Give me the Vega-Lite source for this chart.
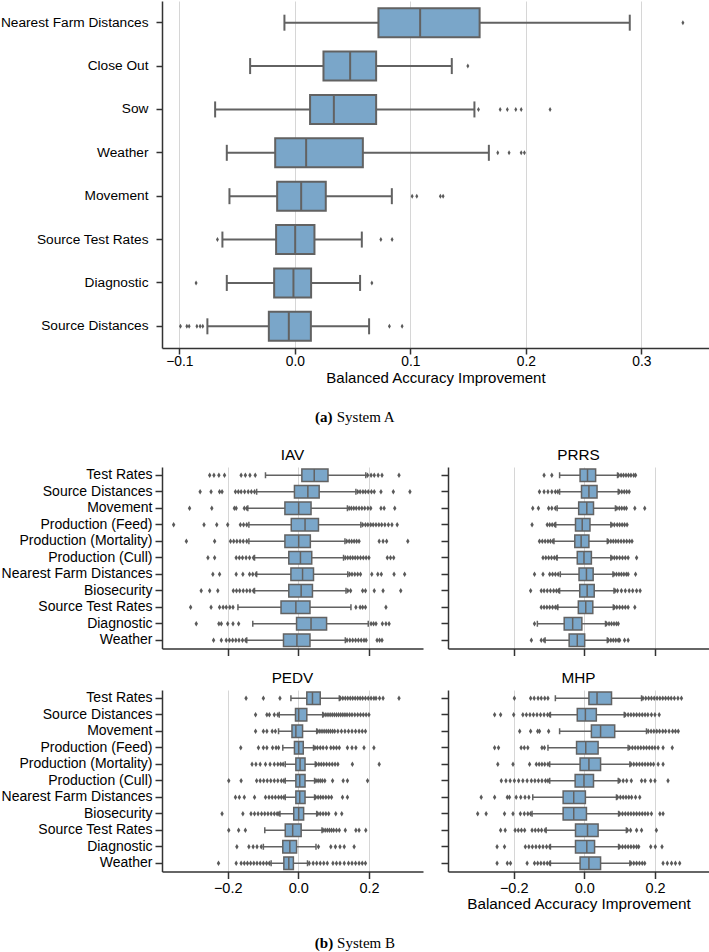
{
"$schema": "https://vega.github.io/schema/vega-lite/v6.json",
"padding": {"left": 0, "top": 1, "right": 0, "bottom": 0},
"background": "white",
"config": {
  "view": {"stroke": null},
  "font": "Liberation Sans",
  "axis": {"domainColor": "#333333", "domainWidth": 1.5, "tickColor": "#333333", "tickWidth": 1.5, "labelColor": "#000000", "titleColor": "#000000", "labelFont": "Liberation Sans", "titleFont": "Liberation Sans", "titleFontWeight": "normal", "gridColor": "#d6d6d6", "gridWidth": 1},
  "title": {"font": "Liberation Sans", "fontWeight": "normal", "color": "#000000"}
},
"datasets": {
  "topSum": [
    {"feature": "Nearest Farm Distances", "lo": -0.009, "q1": 0.0724, "med": 0.1085, "q3": 0.160, "hi": 0.290},
    {"feature": "Close Out", "lo": -0.0387, "q1": 0.0248, "med": 0.0479, "q3": 0.0704, "hi": 0.1359},
    {"feature": "Sow", "lo": -0.069, "q1": 0.0132, "med": 0.0338, "q3": 0.0704, "hi": 0.1555},
    {"feature": "Weather", "lo": -0.0589, "q1": -0.017, "med": 0.0098, "q3": 0.0589, "hi": 0.168},
    {"feature": "Movement", "lo": -0.0566, "q1": -0.0153, "med": 0.0055, "q3": 0.0268, "hi": 0.084},
    {"feature": "Source Test Rates", "lo": -0.0627, "q1": -0.0162, "med": 0.0003, "q3": 0.017, "hi": 0.058},
    {"feature": "Diagnostic", "lo": -0.0589, "q1": -0.0179, "med": -0.0012, "q3": 0.0141, "hi": 0.0565},
    {"feature": "Source Distances", "lo": -0.0757, "q1": -0.0225, "med": -0.0052, "q3": 0.0139, "hi": 0.0643}
  ],
  "topOut": [
    {"feature": "Nearest Farm Distances", "value": 0.336},
    {"feature": "Close Out", "value": 0.1498},
    {"feature": "Sow", "value": 0.159}, {"feature": "Sow", "value": 0.1778}, {"feature": "Sow", "value": 0.184}, {"feature": "Sow", "value": 0.1913}, {"feature": "Sow", "value": 0.196}, {"feature": "Sow", "value": 0.221},
    {"feature": "Weather", "value": 0.1757}, {"feature": "Weather", "value": 0.1855}, {"feature": "Weather", "value": 0.196}, {"feature": "Weather", "value": 0.1988},
    {"feature": "Movement", "value": 0.1016}, {"feature": "Movement", "value": 0.1056}, {"feature": "Movement", "value": 0.126}, {"feature": "Movement", "value": 0.1284},
    {"feature": "Source Test Rates", "value": -0.067}, {"feature": "Source Test Rates", "value": 0.0745}, {"feature": "Source Test Rates", "value": 0.0842},
    {"feature": "Diagnostic", "value": -0.0855}, {"feature": "Diagnostic", "value": 0.0667},
    {"feature": "Source Distances", "value": -0.099}, {"feature": "Source Distances", "value": -0.0935}, {"feature": "Source Distances", "value": -0.0915}, {"feature": "Source Distances", "value": -0.0848}, {"feature": "Source Distances", "value": -0.082}, {"feature": "Source Distances", "value": -0.0797}, {"feature": "Source Distances", "value": 0.0819}, {"feature": "Source Distances", "value": 0.0929}
  ],
  "botSum": [
    {"panel": "IAV", "feature": "Test Rates", "lo": -0.093, "q1": 0.010, "med": 0.045, "q3": 0.084, "hi": 0.191},
    {"panel": "IAV", "feature": "Source Distances", "lo": -0.118, "q1": -0.011, "med": 0.027, "q3": 0.059, "hi": 0.163},
    {"panel": "IAV", "feature": "Movement", "lo": -0.143, "q1": -0.038, "med": 0.001, "q3": 0.036, "hi": 0.139},
    {"panel": "IAV", "feature": "Production (Feed)", "lo": -0.140, "q1": -0.020, "med": 0.019, "q3": 0.057, "hi": 0.177},
    {"panel": "IAV", "feature": "Production (Mortality)", "lo": -0.140, "q1": -0.038, "med": 0.001, "q3": 0.034, "hi": 0.132},
    {"panel": "IAV", "feature": "Production (Cull)", "lo": -0.124, "q1": -0.027, "med": 0.006, "q3": 0.038, "hi": 0.128},
    {"panel": "IAV", "feature": "Nearest Farm Distances", "lo": -0.118, "q1": -0.021, "med": 0.012, "q3": 0.043, "hi": 0.140},
    {"panel": "IAV", "feature": "Biosecurity", "lo": -0.124, "q1": -0.027, "med": 0.008, "q3": 0.040, "hi": 0.135},
    {"panel": "IAV", "feature": "Source Test Rates", "lo": -0.171, "q1": -0.049, "med": -0.007, "q3": 0.033, "hi": 0.149},
    {"panel": "IAV", "feature": "Diagnostic", "lo": -0.129, "q1": -0.005, "med": 0.036, "q3": 0.080, "hi": 0.198},
    {"panel": "IAV", "feature": "Weather", "lo": -0.146, "q1": -0.042, "med": -0.004, "q3": 0.033, "hi": 0.133},
    {"panel": "PRRS", "feature": "Test Rates", "lo": -0.070, "q1": -0.012, "med": 0.009, "q3": 0.032, "hi": 0.094},
    {"panel": "PRRS", "feature": "Source Distances", "lo": -0.070, "q1": -0.008, "med": 0.013, "q3": 0.036, "hi": 0.096},
    {"panel": "PRRS", "feature": "Movement", "lo": -0.077, "q1": -0.016, "med": 0.007, "q3": 0.026, "hi": 0.088},
    {"panel": "PRRS", "feature": "Production (Feed)", "lo": -0.081, "q1": -0.025, "med": -0.006, "q3": 0.016, "hi": 0.075},
    {"panel": "PRRS", "feature": "Production (Mortality)", "lo": -0.086, "q1": -0.027, "med": -0.009, "q3": 0.013, "hi": 0.065},
    {"panel": "PRRS", "feature": "Production (Cull)", "lo": -0.077, "q1": -0.020, "med": -0.001, "q3": 0.020, "hi": 0.075},
    {"panel": "PRRS", "feature": "Nearest Farm Distances", "lo": -0.068, "q1": -0.015, "med": 0.006, "q3": 0.025, "hi": 0.081},
    {"panel": "PRRS", "feature": "Biosecurity", "lo": -0.070, "q1": -0.013, "med": 0.008, "q3": 0.028, "hi": 0.084},
    {"panel": "PRRS", "feature": "Source Test Rates", "lo": -0.075, "q1": -0.017, "med": 0.004, "q3": 0.024, "hi": 0.082},
    {"panel": "PRRS", "feature": "Diagnostic", "lo": -0.133, "q1": -0.057, "med": -0.033, "q3": -0.007, "hi": 0.060},
    {"panel": "PRRS", "feature": "Weather", "lo": -0.111, "q1": -0.043, "med": -0.020, "q3": 0.001, "hi": 0.065},
    {"panel": "PEDV", "feature": "Test Rates", "lo": -0.021, "q1": 0.024, "med": 0.040, "q3": 0.062, "hi": 0.116},
    {"panel": "PEDV", "feature": "Source Distances", "lo": -0.054, "q1": -0.008, "med": 0.001, "q3": 0.024, "hi": 0.069},
    {"panel": "PEDV", "feature": "Movement", "lo": -0.056, "q1": -0.018, "med": -0.007, "q3": 0.012, "hi": 0.052},
    {"panel": "PEDV", "feature": "Production (Feed)", "lo": -0.044, "q1": -0.011, "med": 0.001, "q3": 0.014, "hi": 0.043},
    {"panel": "PEDV", "feature": "Production (Mortality)", "lo": -0.037, "q1": -0.007, "med": 0.005, "q3": 0.019, "hi": 0.048},
    {"panel": "PEDV", "feature": "Production (Cull)", "lo": -0.037, "q1": -0.007, "med": 0.004, "q3": 0.019, "hi": 0.046},
    {"panel": "PEDV", "feature": "Nearest Farm Distances", "lo": -0.037, "q1": -0.007, "med": 0.004, "q3": 0.019, "hi": 0.046},
    {"panel": "PEDV", "feature": "Biosecurity", "lo": -0.052, "q1": -0.013, "med": 0.001, "q3": 0.015, "hi": 0.052},
    {"panel": "PEDV", "feature": "Source Test Rates", "lo": -0.095, "q1": -0.037, "med": -0.016, "q3": 0.008, "hi": 0.067},
    {"panel": "PEDV", "feature": "Diagnostic", "lo": -0.099, "q1": -0.044, "med": -0.024, "q3": -0.005, "hi": 0.050},
    {"panel": "PEDV", "feature": "Weather", "lo": -0.077, "q1": -0.041, "med": -0.027, "q3": -0.014, "hi": 0.026},
    {"panel": "MHP", "feature": "Test Rates", "lo": -0.082, "q1": 0.013, "med": 0.036, "q3": 0.077, "hi": 0.162},
    {"panel": "MHP", "feature": "Source Distances", "lo": -0.096, "q1": -0.020, "med": 0.003, "q3": 0.034, "hi": 0.113},
    {"panel": "MHP", "feature": "Movement", "lo": -0.070, "q1": 0.020, "med": 0.046, "q3": 0.086, "hi": 0.176},
    {"panel": "MHP", "feature": "Production (Feed)", "lo": -0.103, "q1": -0.022, "med": 0.004, "q3": 0.039, "hi": 0.124},
    {"panel": "MHP", "feature": "Production (Mortality)", "lo": -0.098, "q1": -0.012, "med": 0.013, "q3": 0.046, "hi": 0.129},
    {"panel": "MHP", "feature": "Production (Cull)", "lo": -0.098, "q1": -0.026, "med": -0.001, "q3": 0.026, "hi": 0.096},
    {"panel": "MHP", "feature": "Nearest Farm Distances", "lo": -0.146, "q1": -0.060, "med": -0.030, "q3": 0.003, "hi": 0.091},
    {"panel": "MHP", "feature": "Biosecurity", "lo": -0.148, "q1": -0.060, "med": -0.030, "q3": 0.006, "hi": 0.097},
    {"panel": "MHP", "feature": "Source Test Rates", "lo": -0.108, "q1": -0.025, "med": 0.009, "q3": 0.039, "hi": 0.119},
    {"panel": "MHP", "feature": "Diagnostic", "lo": -0.096, "q1": -0.025, "med": 0.007, "q3": 0.029, "hi": 0.097},
    {"panel": "MHP", "feature": "Weather", "lo": -0.096, "q1": -0.012, "med": 0.013, "q3": 0.046, "hi": 0.129}
  ],
  "botOut": [
    {"panel":"IAV","feature":"Test Rates","value":-0.251},{"panel":"IAV","feature":"Test Rates","value":-0.239},{"panel":"IAV","feature":"Test Rates","value":-0.225},{"panel":"IAV","feature":"Test Rates","value":-0.209},{"panel":"IAV","feature":"Test Rates","value":-0.162},{"panel":"IAV","feature":"Test Rates","value":-0.150},{"panel":"IAV","feature":"Test Rates","value":-0.137},{"panel":"IAV","feature":"Test Rates","value":-0.122},{"panel":"IAV","feature":"Test Rates","value":0.196},{"panel":"IAV","feature":"Test Rates","value":0.206},{"panel":"IAV","feature":"Test Rates","value":0.215},{"panel":"IAV","feature":"Test Rates","value":0.226},{"panel":"IAV","feature":"Test Rates","value":0.237},{"panel":"IAV","feature":"Test Rates","value":0.285},
    {"panel":"IAV","feature":"Source Distances","value":-0.278},{"panel":"IAV","feature":"Source Distances","value":-0.247},{"panel":"IAV","feature":"Source Distances","value":-0.223},{"panel":"IAV","feature":"Source Distances","value":-0.216},{"panel":"IAV","feature":"Source Distances","value":-0.178},{"panel":"IAV","feature":"Source Distances","value":-0.170},{"panel":"IAV","feature":"Source Distances","value":-0.162},{"panel":"IAV","feature":"Source Distances","value":-0.152},{"panel":"IAV","feature":"Source Distances","value":-0.142},{"panel":"IAV","feature":"Source Distances","value":-0.133},{"panel":"IAV","feature":"Source Distances","value":-0.124},{"panel":"IAV","feature":"Source Distances","value":0.168},{"panel":"IAV","feature":"Source Distances","value":0.175},{"panel":"IAV","feature":"Source Distances","value":0.183},{"panel":"IAV","feature":"Source Distances","value":0.190},{"panel":"IAV","feature":"Source Distances","value":0.198},{"panel":"IAV","feature":"Source Distances","value":0.207},{"panel":"IAV","feature":"Source Distances","value":0.215},{"panel":"IAV","feature":"Source Distances","value":0.234},{"panel":"IAV","feature":"Source Distances","value":0.269},{"panel":"IAV","feature":"Source Distances","value":0.316},
    {"panel":"IAV","feature":"Movement","value":-0.308},{"panel":"IAV","feature":"Movement","value":-0.245},{"panel":"IAV","feature":"Movement","value":-0.181},{"panel":"IAV","feature":"Movement","value":-0.176},{"panel":"IAV","feature":"Movement","value":-0.153},{"panel":"IAV","feature":"Movement","value":-0.146},{"panel":"IAV","feature":"Movement","value":0.144},{"panel":"IAV","feature":"Movement","value":0.150},{"panel":"IAV","feature":"Movement","value":0.157},{"panel":"IAV","feature":"Movement","value":0.164},{"panel":"IAV","feature":"Movement","value":0.172},{"panel":"IAV","feature":"Movement","value":0.180},{"panel":"IAV","feature":"Movement","value":0.188},{"panel":"IAV","feature":"Movement","value":0.197},{"panel":"IAV","feature":"Movement","value":0.205},{"panel":"IAV","feature":"Movement","value":0.234},{"panel":"IAV","feature":"Movement","value":0.243},{"panel":"IAV","feature":"Movement","value":0.273},
    {"panel":"IAV","feature":"Production (Feed)","value":-0.353},{"panel":"IAV","feature":"Production (Feed)","value":-0.267},{"panel":"IAV","feature":"Production (Feed)","value":-0.231},{"panel":"IAV","feature":"Production (Feed)","value":-0.200},{"panel":"IAV","feature":"Production (Feed)","value":-0.164},{"panel":"IAV","feature":"Production (Feed)","value":-0.155},{"panel":"IAV","feature":"Production (Feed)","value":-0.146},{"panel":"IAV","feature":"Production (Feed)","value":0.182},{"panel":"IAV","feature":"Production (Feed)","value":0.190},{"panel":"IAV","feature":"Production (Feed)","value":0.197},{"panel":"IAV","feature":"Production (Feed)","value":0.205},{"panel":"IAV","feature":"Production (Feed)","value":0.212},{"panel":"IAV","feature":"Production (Feed)","value":0.220},{"panel":"IAV","feature":"Production (Feed)","value":0.228},{"panel":"IAV","feature":"Production (Feed)","value":0.236},{"panel":"IAV","feature":"Production (Feed)","value":0.245},{"panel":"IAV","feature":"Production (Feed)","value":0.255},{"panel":"IAV","feature":"Production (Feed)","value":0.265},{"panel":"IAV","feature":"Production (Feed)","value":0.280},
    {"panel":"IAV","feature":"Production (Mortality)","value":-0.317},{"panel":"IAV","feature":"Production (Mortality)","value":-0.237},{"panel":"IAV","feature":"Production (Mortality)","value":-0.192},{"panel":"IAV","feature":"Production (Mortality)","value":-0.183},{"panel":"IAV","feature":"Production (Mortality)","value":-0.174},{"panel":"IAV","feature":"Production (Mortality)","value":-0.165},{"panel":"IAV","feature":"Production (Mortality)","value":-0.156},{"panel":"IAV","feature":"Production (Mortality)","value":-0.146},{"panel":"IAV","feature":"Production (Mortality)","value":0.137},{"panel":"IAV","feature":"Production (Mortality)","value":0.144},{"panel":"IAV","feature":"Production (Mortality)","value":0.151},{"panel":"IAV","feature":"Production (Mortality)","value":0.158},{"panel":"IAV","feature":"Production (Mortality)","value":0.165},{"panel":"IAV","feature":"Production (Mortality)","value":0.172},{"panel":"IAV","feature":"Production (Mortality)","value":0.229},{"panel":"IAV","feature":"Production (Mortality)","value":0.240},{"panel":"IAV","feature":"Production (Mortality)","value":0.250},{"panel":"IAV","feature":"Production (Mortality)","value":0.310},
    {"panel":"IAV","feature":"Production (Cull)","value":-0.256},{"panel":"IAV","feature":"Production (Cull)","value":-0.237},{"panel":"IAV","feature":"Production (Cull)","value":-0.176},{"panel":"IAV","feature":"Production (Cull)","value":-0.167},{"panel":"IAV","feature":"Production (Cull)","value":-0.158},{"panel":"IAV","feature":"Production (Cull)","value":-0.148},{"panel":"IAV","feature":"Production (Cull)","value":-0.138},{"panel":"IAV","feature":"Production (Cull)","value":-0.127},{"panel":"IAV","feature":"Production (Cull)","value":0.133},{"panel":"IAV","feature":"Production (Cull)","value":0.140},{"panel":"IAV","feature":"Production (Cull)","value":0.147},{"panel":"IAV","feature":"Production (Cull)","value":0.154},{"panel":"IAV","feature":"Production (Cull)","value":0.161},{"panel":"IAV","feature":"Production (Cull)","value":0.168},{"panel":"IAV","feature":"Production (Cull)","value":0.176},{"panel":"IAV","feature":"Production (Cull)","value":0.184},{"panel":"IAV","feature":"Production (Cull)","value":0.192},{"panel":"IAV","feature":"Production (Cull)","value":0.200},{"panel":"IAV","feature":"Production (Cull)","value":0.252},{"panel":"IAV","feature":"Production (Cull)","value":0.261},{"panel":"IAV","feature":"Production (Cull)","value":0.270},
    {"panel":"IAV","feature":"Nearest Farm Distances","value":-0.242},{"panel":"IAV","feature":"Nearest Farm Distances","value":-0.223},{"panel":"IAV","feature":"Nearest Farm Distances","value":-0.176},{"panel":"IAV","feature":"Nearest Farm Distances","value":-0.157},{"panel":"IAV","feature":"Nearest Farm Distances","value":-0.138},{"panel":"IAV","feature":"Nearest Farm Distances","value":-0.129},{"panel":"IAV","feature":"Nearest Farm Distances","value":-0.120},{"panel":"IAV","feature":"Nearest Farm Distances","value":0.145},{"panel":"IAV","feature":"Nearest Farm Distances","value":0.152},{"panel":"IAV","feature":"Nearest Farm Distances","value":0.160},{"panel":"IAV","feature":"Nearest Farm Distances","value":0.168},{"panel":"IAV","feature":"Nearest Farm Distances","value":0.176},{"panel":"IAV","feature":"Nearest Farm Distances","value":0.208},{"panel":"IAV","feature":"Nearest Farm Distances","value":0.225},{"panel":"IAV","feature":"Nearest Farm Distances","value":0.235},{"panel":"IAV","feature":"Nearest Farm Distances","value":0.271},{"panel":"IAV","feature":"Nearest Farm Distances","value":0.301},
    {"panel":"IAV","feature":"Biosecurity","value":-0.275},{"panel":"IAV","feature":"Biosecurity","value":-0.251},{"panel":"IAV","feature":"Biosecurity","value":-0.228},{"panel":"IAV","feature":"Biosecurity","value":-0.184},{"panel":"IAV","feature":"Biosecurity","value":-0.175},{"panel":"IAV","feature":"Biosecurity","value":-0.166},{"panel":"IAV","feature":"Biosecurity","value":-0.156},{"panel":"IAV","feature":"Biosecurity","value":-0.146},{"panel":"IAV","feature":"Biosecurity","value":-0.137},{"panel":"IAV","feature":"Biosecurity","value":-0.127},{"panel":"IAV","feature":"Biosecurity","value":0.140},{"panel":"IAV","feature":"Biosecurity","value":0.148},{"panel":"IAV","feature":"Biosecurity","value":0.182},{"panel":"IAV","feature":"Biosecurity","value":0.190},{"panel":"IAV","feature":"Biosecurity","value":0.215},{"panel":"IAV","feature":"Biosecurity","value":0.240},{"panel":"IAV","feature":"Biosecurity","value":0.290},
    {"panel":"IAV","feature":"Source Test Rates","value":-0.305},{"panel":"IAV","feature":"Source Test Rates","value":-0.247},{"panel":"IAV","feature":"Source Test Rates","value":-0.223},{"panel":"IAV","feature":"Source Test Rates","value":-0.213},{"panel":"IAV","feature":"Source Test Rates","value":-0.204},{"panel":"IAV","feature":"Source Test Rates","value":-0.194},{"panel":"IAV","feature":"Source Test Rates","value":-0.185},{"panel":"IAV","feature":"Source Test Rates","value":0.163},{"panel":"IAV","feature":"Source Test Rates","value":0.175},{"panel":"IAV","feature":"Source Test Rates","value":0.182},{"panel":"IAV","feature":"Source Test Rates","value":0.190},{"panel":"IAV","feature":"Source Test Rates","value":0.248},
    {"panel":"IAV","feature":"Diagnostic","value":-0.289},{"panel":"IAV","feature":"Diagnostic","value":-0.225},{"panel":"IAV","feature":"Diagnostic","value":-0.218},{"panel":"IAV","feature":"Diagnostic","value":-0.200},{"panel":"IAV","feature":"Diagnostic","value":-0.185},{"panel":"IAV","feature":"Diagnostic","value":-0.169},{"panel":"IAV","feature":"Diagnostic","value":0.206},{"panel":"IAV","feature":"Diagnostic","value":0.213},{"panel":"IAV","feature":"Diagnostic","value":0.220},{"panel":"IAV","feature":"Diagnostic","value":0.238},{"panel":"IAV","feature":"Diagnostic","value":0.248},{"panel":"IAV","feature":"Diagnostic","value":0.257},
    {"panel":"IAV","feature":"Weather","value":-0.240},{"panel":"IAV","feature":"Weather","value":-0.218},{"panel":"IAV","feature":"Weather","value":-0.204},{"panel":"IAV","feature":"Weather","value":-0.195},{"panel":"IAV","feature":"Weather","value":-0.186},{"panel":"IAV","feature":"Weather","value":-0.177},{"panel":"IAV","feature":"Weather","value":-0.168},{"panel":"IAV","feature":"Weather","value":-0.158},{"panel":"IAV","feature":"Weather","value":-0.149},{"panel":"IAV","feature":"Weather","value":0.138},{"panel":"IAV","feature":"Weather","value":0.146},{"panel":"IAV","feature":"Weather","value":0.154},{"panel":"IAV","feature":"Weather","value":0.162},{"panel":"IAV","feature":"Weather","value":0.170},{"panel":"IAV","feature":"Weather","value":0.178},{"panel":"IAV","feature":"Weather","value":0.186},{"panel":"IAV","feature":"Weather","value":0.192},{"panel":"IAV","feature":"Weather","value":0.223},{"panel":"IAV","feature":"Weather","value":0.230},{"panel":"IAV","feature":"Weather","value":0.237},

    {"panel":"PRRS","feature":"Test Rates","value":-0.114},{"panel":"PRRS","feature":"Test Rates","value":-0.092},{"panel":"PRRS","feature":"Test Rates","value":0.097},{"panel":"PRRS","feature":"Test Rates","value":0.104},{"panel":"PRRS","feature":"Test Rates","value":0.111},{"panel":"PRRS","feature":"Test Rates","value":0.118},{"panel":"PRRS","feature":"Test Rates","value":0.125},{"panel":"PRRS","feature":"Test Rates","value":0.132},{"panel":"PRRS","feature":"Test Rates","value":0.140},{"panel":"PRRS","feature":"Test Rates","value":0.145},
    {"panel":"PRRS","feature":"Source Distances","value":-0.127},{"panel":"PRRS","feature":"Source Distances","value":-0.114},{"panel":"PRRS","feature":"Source Distances","value":-0.103},{"panel":"PRRS","feature":"Source Distances","value":-0.092},{"panel":"PRRS","feature":"Source Distances","value":-0.082},{"panel":"PRRS","feature":"Source Distances","value":-0.075},{"panel":"PRRS","feature":"Source Distances","value":0.099},{"panel":"PRRS","feature":"Source Distances","value":0.106},{"panel":"PRRS","feature":"Source Distances","value":0.113},{"panel":"PRRS","feature":"Source Distances","value":0.120},{"panel":"PRRS","feature":"Source Distances","value":0.127},
    {"panel":"PRRS","feature":"Movement","value":-0.146},{"panel":"PRRS","feature":"Movement","value":-0.130},{"panel":"PRRS","feature":"Movement","value":-0.101},{"panel":"PRRS","feature":"Movement","value":-0.092},{"panel":"PRRS","feature":"Movement","value":-0.082},{"panel":"PRRS","feature":"Movement","value":0.092},{"panel":"PRRS","feature":"Movement","value":0.099},{"panel":"PRRS","feature":"Movement","value":0.106},{"panel":"PRRS","feature":"Movement","value":0.113},{"panel":"PRRS","feature":"Movement","value":0.119},{"panel":"PRRS","feature":"Movement","value":0.143},{"panel":"PRRS","feature":"Movement","value":0.171},
    {"panel":"PRRS","feature":"Production (Feed)","value":-0.148},{"panel":"PRRS","feature":"Production (Feed)","value":-0.105},{"panel":"PRRS","feature":"Production (Feed)","value":-0.098},{"panel":"PRRS","feature":"Production (Feed)","value":-0.091},{"panel":"PRRS","feature":"Production (Feed)","value":-0.084},{"panel":"PRRS","feature":"Production (Feed)","value":0.078},{"panel":"PRRS","feature":"Production (Feed)","value":0.085},{"panel":"PRRS","feature":"Production (Feed)","value":0.093},{"panel":"PRRS","feature":"Production (Feed)","value":0.100},{"panel":"PRRS","feature":"Production (Feed)","value":0.107},{"panel":"PRRS","feature":"Production (Feed)","value":0.114},{"panel":"PRRS","feature":"Production (Feed)","value":0.121},
    {"panel":"PRRS","feature":"Production (Mortality)","value":-0.127},{"panel":"PRRS","feature":"Production (Mortality)","value":-0.119},{"panel":"PRRS","feature":"Production (Mortality)","value":-0.111},{"panel":"PRRS","feature":"Production (Mortality)","value":-0.103},{"panel":"PRRS","feature":"Production (Mortality)","value":-0.096},{"panel":"PRRS","feature":"Production (Mortality)","value":-0.089},{"panel":"PRRS","feature":"Production (Mortality)","value":0.068},{"panel":"PRRS","feature":"Production (Mortality)","value":0.075},{"panel":"PRRS","feature":"Production (Mortality)","value":0.082},{"panel":"PRRS","feature":"Production (Mortality)","value":0.089},{"panel":"PRRS","feature":"Production (Mortality)","value":0.096},{"panel":"PRRS","feature":"Production (Mortality)","value":0.104},{"panel":"PRRS","feature":"Production (Mortality)","value":0.112},{"panel":"PRRS","feature":"Production (Mortality)","value":0.120},{"panel":"PRRS","feature":"Production (Mortality)","value":0.128},{"panel":"PRRS","feature":"Production (Mortality)","value":0.135},
    {"panel":"PRRS","feature":"Production (Cull)","value":-0.117},{"panel":"PRRS","feature":"Production (Cull)","value":-0.109},{"panel":"PRRS","feature":"Production (Cull)","value":-0.101},{"panel":"PRRS","feature":"Production (Cull)","value":-0.093},{"panel":"PRRS","feature":"Production (Cull)","value":-0.085},{"panel":"PRRS","feature":"Production (Cull)","value":-0.079},{"panel":"PRRS","feature":"Production (Cull)","value":0.078},{"panel":"PRRS","feature":"Production (Cull)","value":0.085},{"panel":"PRRS","feature":"Production (Cull)","value":0.092},{"panel":"PRRS","feature":"Production (Cull)","value":0.100},{"panel":"PRRS","feature":"Production (Cull)","value":0.108},{"panel":"PRRS","feature":"Production (Cull)","value":0.116},{"panel":"PRRS","feature":"Production (Cull)","value":0.124},{"panel":"PRRS","feature":"Production (Cull)","value":0.148},
    {"panel":"PRRS","feature":"Nearest Farm Distances","value":-0.141},{"panel":"PRRS","feature":"Nearest Farm Distances","value":-0.117},{"panel":"PRRS","feature":"Nearest Farm Distances","value":-0.098},{"panel":"PRRS","feature":"Nearest Farm Distances","value":-0.090},{"panel":"PRRS","feature":"Nearest Farm Distances","value":-0.082},{"panel":"PRRS","feature":"Nearest Farm Distances","value":-0.074},{"panel":"PRRS","feature":"Nearest Farm Distances","value":0.084},{"panel":"PRRS","feature":"Nearest Farm Distances","value":0.091},{"panel":"PRRS","feature":"Nearest Farm Distances","value":0.098},{"panel":"PRRS","feature":"Nearest Farm Distances","value":0.105},{"panel":"PRRS","feature":"Nearest Farm Distances","value":0.112},{"panel":"PRRS","feature":"Nearest Farm Distances","value":0.119},{"panel":"PRRS","feature":"Nearest Farm Distances","value":0.124},{"panel":"PRRS","feature":"Nearest Farm Distances","value":0.145},
    {"panel":"PRRS","feature":"Biosecurity","value":-0.152},{"panel":"PRRS","feature":"Biosecurity","value":-0.122},{"panel":"PRRS","feature":"Biosecurity","value":-0.114},{"panel":"PRRS","feature":"Biosecurity","value":-0.105},{"panel":"PRRS","feature":"Biosecurity","value":-0.096},{"panel":"PRRS","feature":"Biosecurity","value":-0.087},{"panel":"PRRS","feature":"Biosecurity","value":-0.079},{"panel":"PRRS","feature":"Biosecurity","value":-0.073},{"panel":"PRRS","feature":"Biosecurity","value":0.087},{"panel":"PRRS","feature":"Biosecurity","value":0.094},{"panel":"PRRS","feature":"Biosecurity","value":0.105},{"panel":"PRRS","feature":"Biosecurity","value":0.116},{"panel":"PRRS","feature":"Biosecurity","value":0.127},{"panel":"PRRS","feature":"Biosecurity","value":0.137},{"panel":"PRRS","feature":"Biosecurity","value":0.148},{"panel":"PRRS","feature":"Biosecurity","value":0.158},
    {"panel":"PRRS","feature":"Source Test Rates","value":-0.122},{"panel":"PRRS","feature":"Source Test Rates","value":-0.114},{"panel":"PRRS","feature":"Source Test Rates","value":-0.106},{"panel":"PRRS","feature":"Source Test Rates","value":-0.098},{"panel":"PRRS","feature":"Source Test Rates","value":-0.090},{"panel":"PRRS","feature":"Source Test Rates","value":-0.082},{"panel":"PRRS","feature":"Source Test Rates","value":-0.077},{"panel":"PRRS","feature":"Source Test Rates","value":0.085},{"panel":"PRRS","feature":"Source Test Rates","value":0.092},{"panel":"PRRS","feature":"Source Test Rates","value":0.100},{"panel":"PRRS","feature":"Source Test Rates","value":0.108},{"panel":"PRRS","feature":"Source Test Rates","value":0.116},{"panel":"PRRS","feature":"Source Test Rates","value":0.124},{"panel":"PRRS","feature":"Source Test Rates","value":0.143},
    {"panel":"PRRS","feature":"Diagnostic","value":-0.141},{"panel":"PRRS","feature":"Diagnostic","value":0.063},{"panel":"PRRS","feature":"Diagnostic","value":0.070},{"panel":"PRRS","feature":"Diagnostic","value":0.077},{"panel":"PRRS","feature":"Diagnostic","value":0.084},{"panel":"PRRS","feature":"Diagnostic","value":0.091},{"panel":"PRRS","feature":"Diagnostic","value":0.096},
    {"panel":"PRRS","feature":"Weather","value":-0.150},{"panel":"PRRS","feature":"Weather","value":-0.122},{"panel":"PRRS","feature":"Weather","value":-0.114},{"panel":"PRRS","feature":"Weather","value":0.068},{"panel":"PRRS","feature":"Weather","value":0.075},{"panel":"PRRS","feature":"Weather","value":0.082},{"panel":"PRRS","feature":"Weather","value":0.089},{"panel":"PRRS","feature":"Weather","value":0.096},{"panel":"PRRS","feature":"Weather","value":0.100},{"panel":"PRRS","feature":"Weather","value":0.114},{"panel":"PRRS","feature":"Weather","value":0.124},

    {"panel":"PEDV","feature":"Test Rates","value":-0.148},{"panel":"PEDV","feature":"Test Rates","value":-0.099},{"panel":"PEDV","feature":"Test Rates","value":-0.052},{"panel":"PEDV","feature":"Test Rates","value":0.119},{"panel":"PEDV","feature":"Test Rates","value":0.126},{"panel":"PEDV","feature":"Test Rates","value":0.133},{"panel":"PEDV","feature":"Test Rates","value":0.140},{"panel":"PEDV","feature":"Test Rates","value":0.147},{"panel":"PEDV","feature":"Test Rates","value":0.154},{"panel":"PEDV","feature":"Test Rates","value":0.161},{"panel":"PEDV","feature":"Test Rates","value":0.168},{"panel":"PEDV","feature":"Test Rates","value":0.175},{"panel":"PEDV","feature":"Test Rates","value":0.182},{"panel":"PEDV","feature":"Test Rates","value":0.190},{"panel":"PEDV","feature":"Test Rates","value":0.198},{"panel":"PEDV","feature":"Test Rates","value":0.206},{"panel":"PEDV","feature":"Test Rates","value":0.214},{"panel":"PEDV","feature":"Test Rates","value":0.220},{"panel":"PEDV","feature":"Test Rates","value":0.230},{"panel":"PEDV","feature":"Test Rates","value":0.240},{"panel":"PEDV","feature":"Test Rates","value":0.285},
    {"panel":"PEDV","feature":"Source Distances","value":-0.121},{"panel":"PEDV","feature":"Source Distances","value":-0.089},{"panel":"PEDV","feature":"Source Distances","value":-0.082},{"panel":"PEDV","feature":"Source Distances","value":-0.068},{"panel":"PEDV","feature":"Source Distances","value":-0.058},{"panel":"PEDV","feature":"Source Distances","value":0.072},{"panel":"PEDV","feature":"Source Distances","value":0.078},{"panel":"PEDV","feature":"Source Distances","value":0.084},{"panel":"PEDV","feature":"Source Distances","value":0.090},{"panel":"PEDV","feature":"Source Distances","value":0.096},{"panel":"PEDV","feature":"Source Distances","value":0.102},{"panel":"PEDV","feature":"Source Distances","value":0.108},{"panel":"PEDV","feature":"Source Distances","value":0.114},{"panel":"PEDV","feature":"Source Distances","value":0.120},{"panel":"PEDV","feature":"Source Distances","value":0.126},{"panel":"PEDV","feature":"Source Distances","value":0.132},{"panel":"PEDV","feature":"Source Distances","value":0.138},{"panel":"PEDV","feature":"Source Distances","value":0.145},{"panel":"PEDV","feature":"Source Distances","value":0.152},{"panel":"PEDV","feature":"Source Distances","value":0.160},{"panel":"PEDV","feature":"Source Distances","value":0.168},{"panel":"PEDV","feature":"Source Distances","value":0.176},{"panel":"PEDV","feature":"Source Distances","value":0.184},{"panel":"PEDV","feature":"Source Distances","value":0.192},{"panel":"PEDV","feature":"Source Distances","value":0.200},
    {"panel":"PEDV","feature":"Movement","value":-0.121},{"panel":"PEDV","feature":"Movement","value":-0.099},{"panel":"PEDV","feature":"Movement","value":-0.089},{"panel":"PEDV","feature":"Movement","value":-0.074},{"panel":"PEDV","feature":"Movement","value":-0.065},{"panel":"PEDV","feature":"Movement","value":0.055},{"panel":"PEDV","feature":"Movement","value":0.061},{"panel":"PEDV","feature":"Movement","value":0.067},{"panel":"PEDV","feature":"Movement","value":0.073},{"panel":"PEDV","feature":"Movement","value":0.079},{"panel":"PEDV","feature":"Movement","value":0.085},{"panel":"PEDV","feature":"Movement","value":0.091},{"panel":"PEDV","feature":"Movement","value":0.097},{"panel":"PEDV","feature":"Movement","value":0.103},{"panel":"PEDV","feature":"Movement","value":0.112},{"panel":"PEDV","feature":"Movement","value":0.122},{"panel":"PEDV","feature":"Movement","value":0.132},{"panel":"PEDV","feature":"Movement","value":0.142},{"panel":"PEDV","feature":"Movement","value":0.152},{"panel":"PEDV","feature":"Movement","value":0.162},{"panel":"PEDV","feature":"Movement","value":0.172},{"panel":"PEDV","feature":"Movement","value":0.181},{"panel":"PEDV","feature":"Movement","value":0.190},
    {"panel":"PEDV","feature":"Production (Feed)","value":-0.163},{"panel":"PEDV","feature":"Production (Feed)","value":-0.113},{"panel":"PEDV","feature":"Production (Feed)","value":-0.099},{"panel":"PEDV","feature":"Production (Feed)","value":-0.089},{"panel":"PEDV","feature":"Production (Feed)","value":-0.073},{"panel":"PEDV","feature":"Production (Feed)","value":-0.063},{"panel":"PEDV","feature":"Production (Feed)","value":-0.056},{"panel":"PEDV","feature":"Production (Feed)","value":0.047},{"panel":"PEDV","feature":"Production (Feed)","value":0.054},{"panel":"PEDV","feature":"Production (Feed)","value":0.062},{"panel":"PEDV","feature":"Production (Feed)","value":0.070},{"panel":"PEDV","feature":"Production (Feed)","value":0.080},{"panel":"PEDV","feature":"Production (Feed)","value":0.092},{"panel":"PEDV","feature":"Production (Feed)","value":0.100},{"panel":"PEDV","feature":"Production (Feed)","value":0.108},{"panel":"PEDV","feature":"Production (Feed)","value":0.116},{"panel":"PEDV","feature":"Production (Feed)","value":0.139},{"panel":"PEDV","feature":"Production (Feed)","value":0.152},{"panel":"PEDV","feature":"Production (Feed)","value":0.163},{"panel":"PEDV","feature":"Production (Feed)","value":0.186},{"panel":"PEDV","feature":"Production (Feed)","value":0.214},
    {"panel":"PEDV","feature":"Production (Mortality)","value":-0.131},{"panel":"PEDV","feature":"Production (Mortality)","value":-0.120},{"panel":"PEDV","feature":"Production (Mortality)","value":-0.108},{"panel":"PEDV","feature":"Production (Mortality)","value":-0.093},{"panel":"PEDV","feature":"Production (Mortality)","value":-0.080},{"panel":"PEDV","feature":"Production (Mortality)","value":-0.068},{"panel":"PEDV","feature":"Production (Mortality)","value":-0.058},{"panel":"PEDV","feature":"Production (Mortality)","value":-0.050},{"panel":"PEDV","feature":"Production (Mortality)","value":-0.043},{"panel":"PEDV","feature":"Production (Mortality)","value":0.051},{"panel":"PEDV","feature":"Production (Mortality)","value":0.058},{"panel":"PEDV","feature":"Production (Mortality)","value":0.065},{"panel":"PEDV","feature":"Production (Mortality)","value":0.072},{"panel":"PEDV","feature":"Production (Mortality)","value":0.080},{"panel":"PEDV","feature":"Production (Mortality)","value":0.088},{"panel":"PEDV","feature":"Production (Mortality)","value":0.096},{"panel":"PEDV","feature":"Production (Mortality)","value":0.104},{"panel":"PEDV","feature":"Production (Mortality)","value":0.112},{"panel":"PEDV","feature":"Production (Mortality)","value":0.153},{"panel":"PEDV","feature":"Production (Mortality)","value":0.229},
    {"panel":"PEDV","feature":"Production (Cull)","value":-0.197},{"panel":"PEDV","feature":"Production (Cull)","value":-0.162},{"panel":"PEDV","feature":"Production (Cull)","value":-0.118},{"panel":"PEDV","feature":"Production (Cull)","value":-0.108},{"panel":"PEDV","feature":"Production (Cull)","value":-0.098},{"panel":"PEDV","feature":"Production (Cull)","value":-0.088},{"panel":"PEDV","feature":"Production (Cull)","value":-0.078},{"panel":"PEDV","feature":"Production (Cull)","value":-0.068},{"panel":"PEDV","feature":"Production (Cull)","value":-0.058},{"panel":"PEDV","feature":"Production (Cull)","value":-0.048},{"panel":"PEDV","feature":"Production (Cull)","value":-0.041},{"panel":"PEDV","feature":"Production (Cull)","value":0.050},{"panel":"PEDV","feature":"Production (Cull)","value":0.056},{"panel":"PEDV","feature":"Production (Cull)","value":0.062},{"panel":"PEDV","feature":"Production (Cull)","value":0.068},{"panel":"PEDV","feature":"Production (Cull)","value":0.075},{"panel":"PEDV","feature":"Production (Cull)","value":0.097},{"panel":"PEDV","feature":"Production (Cull)","value":0.127},{"panel":"PEDV","feature":"Production (Cull)","value":0.139},{"panel":"PEDV","feature":"Production (Cull)","value":0.196},
    {"panel":"PEDV","feature":"Nearest Farm Distances","value":-0.178},{"panel":"PEDV","feature":"Nearest Farm Distances","value":-0.167},{"panel":"PEDV","feature":"Nearest Farm Distances","value":-0.153},{"panel":"PEDV","feature":"Nearest Farm Distances","value":-0.124},{"panel":"PEDV","feature":"Nearest Farm Distances","value":-0.093},{"panel":"PEDV","feature":"Nearest Farm Distances","value":-0.083},{"panel":"PEDV","feature":"Nearest Farm Distances","value":-0.074},{"panel":"PEDV","feature":"Nearest Farm Distances","value":-0.065},{"panel":"PEDV","feature":"Nearest Farm Distances","value":-0.056},{"panel":"PEDV","feature":"Nearest Farm Distances","value":-0.048},{"panel":"PEDV","feature":"Nearest Farm Distances","value":-0.041},{"panel":"PEDV","feature":"Nearest Farm Distances","value":0.049},{"panel":"PEDV","feature":"Nearest Farm Distances","value":0.056},{"panel":"PEDV","feature":"Nearest Farm Distances","value":0.063},{"panel":"PEDV","feature":"Nearest Farm Distances","value":0.070},{"panel":"PEDV","feature":"Nearest Farm Distances","value":0.078},{"panel":"PEDV","feature":"Nearest Farm Distances","value":0.086},{"panel":"PEDV","feature":"Nearest Farm Distances","value":0.094},{"panel":"PEDV","feature":"Nearest Farm Distances","value":0.125},{"panel":"PEDV","feature":"Nearest Farm Distances","value":0.139},
    {"panel":"PEDV","feature":"Biosecurity","value":-0.216},{"panel":"PEDV","feature":"Biosecurity","value":-0.157},{"panel":"PEDV","feature":"Biosecurity","value":-0.134},{"panel":"PEDV","feature":"Biosecurity","value":-0.124},{"panel":"PEDV","feature":"Biosecurity","value":-0.114},{"panel":"PEDV","feature":"Biosecurity","value":-0.104},{"panel":"PEDV","feature":"Biosecurity","value":-0.095},{"panel":"PEDV","feature":"Biosecurity","value":-0.086},{"panel":"PEDV","feature":"Biosecurity","value":-0.077},{"panel":"PEDV","feature":"Biosecurity","value":-0.068},{"panel":"PEDV","feature":"Biosecurity","value":-0.060},{"panel":"PEDV","feature":"Biosecurity","value":-0.055},{"panel":"PEDV","feature":"Biosecurity","value":0.055},{"panel":"PEDV","feature":"Biosecurity","value":0.062},{"panel":"PEDV","feature":"Biosecurity","value":0.070},{"panel":"PEDV","feature":"Biosecurity","value":0.078},{"panel":"PEDV","feature":"Biosecurity","value":0.086},{"panel":"PEDV","feature":"Biosecurity","value":0.106},{"panel":"PEDV","feature":"Biosecurity","value":0.123},
    {"panel":"PEDV","feature":"Source Test Rates","value":-0.197},{"panel":"PEDV","feature":"Source Test Rates","value":-0.169},{"panel":"PEDV","feature":"Source Test Rates","value":-0.150},{"panel":"PEDV","feature":"Source Test Rates","value":0.070},{"panel":"PEDV","feature":"Source Test Rates","value":0.076},{"panel":"PEDV","feature":"Source Test Rates","value":0.082},{"panel":"PEDV","feature":"Source Test Rates","value":0.088},{"panel":"PEDV","feature":"Source Test Rates","value":0.094},{"panel":"PEDV","feature":"Source Test Rates","value":0.100},{"panel":"PEDV","feature":"Source Test Rates","value":0.108},{"panel":"PEDV","feature":"Source Test Rates","value":0.116},{"panel":"PEDV","feature":"Source Test Rates","value":0.133},{"panel":"PEDV","feature":"Source Test Rates","value":0.163},{"panel":"PEDV","feature":"Source Test Rates","value":0.172},{"panel":"PEDV","feature":"Source Test Rates","value":0.191},
    {"panel":"PEDV","feature":"Diagnostic","value":-0.174},{"panel":"PEDV","feature":"Diagnostic","value":-0.140},{"panel":"PEDV","feature":"Diagnostic","value":-0.128},{"panel":"PEDV","feature":"Diagnostic","value":-0.117},{"panel":"PEDV","feature":"Diagnostic","value":-0.105},{"panel":"PEDV","feature":"Diagnostic","value":0.057},{"panel":"PEDV","feature":"Diagnostic","value":0.092},{"panel":"PEDV","feature":"Diagnostic","value":0.105},{"panel":"PEDV","feature":"Diagnostic","value":0.118},{"panel":"PEDV","feature":"Diagnostic","value":0.130},{"panel":"PEDV","feature":"Diagnostic","value":0.158},
    {"panel":"PEDV","feature":"Weather","value":-0.226},{"panel":"PEDV","feature":"Weather","value":-0.176},{"panel":"PEDV","feature":"Weather","value":-0.162},{"panel":"PEDV","feature":"Weather","value":-0.153},{"panel":"PEDV","feature":"Weather","value":-0.144},{"panel":"PEDV","feature":"Weather","value":-0.135},{"panel":"PEDV","feature":"Weather","value":-0.126},{"panel":"PEDV","feature":"Weather","value":-0.117},{"panel":"PEDV","feature":"Weather","value":-0.108},{"panel":"PEDV","feature":"Weather","value":-0.099},{"panel":"PEDV","feature":"Weather","value":-0.090},{"panel":"PEDV","feature":"Weather","value":-0.082},{"panel":"PEDV","feature":"Weather","value":0.031},{"panel":"PEDV","feature":"Weather","value":0.042},{"panel":"PEDV","feature":"Weather","value":0.052},{"panel":"PEDV","feature":"Weather","value":0.062},{"panel":"PEDV","feature":"Weather","value":0.072},{"panel":"PEDV","feature":"Weather","value":0.082},{"panel":"PEDV","feature":"Weather","value":0.098},{"panel":"PEDV","feature":"Weather","value":0.108},{"panel":"PEDV","feature":"Weather","value":0.118},{"panel":"PEDV","feature":"Weather","value":0.130},{"panel":"PEDV","feature":"Weather","value":0.142},{"panel":"PEDV","feature":"Weather","value":0.152},{"panel":"PEDV","feature":"Weather","value":0.162},{"panel":"PEDV","feature":"Weather","value":0.172},{"panel":"PEDV","feature":"Weather","value":0.181},{"panel":"PEDV","feature":"Weather","value":0.190},

    {"panel":"MHP","feature":"Test Rates","value":-0.198},{"panel":"MHP","feature":"Test Rates","value":-0.152},{"panel":"MHP","feature":"Test Rates","value":-0.142},{"panel":"MHP","feature":"Test Rates","value":-0.131},{"panel":"MHP","feature":"Test Rates","value":-0.122},{"panel":"MHP","feature":"Test Rates","value":-0.112},{"panel":"MHP","feature":"Test Rates","value":-0.103},{"panel":"MHP","feature":"Test Rates","value":0.166},{"panel":"MHP","feature":"Test Rates","value":0.174},{"panel":"MHP","feature":"Test Rates","value":0.182},{"panel":"MHP","feature":"Test Rates","value":0.190},{"panel":"MHP","feature":"Test Rates","value":0.198},{"panel":"MHP","feature":"Test Rates","value":0.206},{"panel":"MHP","feature":"Test Rates","value":0.214},{"panel":"MHP","feature":"Test Rates","value":0.222},{"panel":"MHP","feature":"Test Rates","value":0.230},{"panel":"MHP","feature":"Test Rates","value":0.238},{"panel":"MHP","feature":"Test Rates","value":0.246},{"panel":"MHP","feature":"Test Rates","value":0.255},{"panel":"MHP","feature":"Test Rates","value":0.265},{"panel":"MHP","feature":"Test Rates","value":0.275},
    {"panel":"MHP","feature":"Source Distances","value":-0.254},{"panel":"MHP","feature":"Source Distances","value":-0.237},{"panel":"MHP","feature":"Source Distances","value":-0.200},{"panel":"MHP","feature":"Source Distances","value":-0.174},{"panel":"MHP","feature":"Source Distances","value":-0.164},{"panel":"MHP","feature":"Source Distances","value":-0.154},{"panel":"MHP","feature":"Source Distances","value":-0.144},{"panel":"MHP","feature":"Source Distances","value":-0.134},{"panel":"MHP","feature":"Source Distances","value":-0.124},{"panel":"MHP","feature":"Source Distances","value":-0.114},{"panel":"MHP","feature":"Source Distances","value":-0.104},{"panel":"MHP","feature":"Source Distances","value":-0.098},{"panel":"MHP","feature":"Source Distances","value":0.116},{"panel":"MHP","feature":"Source Distances","value":0.124},{"panel":"MHP","feature":"Source Distances","value":0.132},{"panel":"MHP","feature":"Source Distances","value":0.140},{"panel":"MHP","feature":"Source Distances","value":0.148},{"panel":"MHP","feature":"Source Distances","value":0.156},{"panel":"MHP","feature":"Source Distances","value":0.164},{"panel":"MHP","feature":"Source Distances","value":0.172},{"panel":"MHP","feature":"Source Distances","value":0.180},{"panel":"MHP","feature":"Source Distances","value":0.190},{"panel":"MHP","feature":"Source Distances","value":0.200},{"panel":"MHP","feature":"Source Distances","value":0.212},
    {"panel":"MHP","feature":"Movement","value":-0.183},{"panel":"MHP","feature":"Movement","value":-0.152},{"panel":"MHP","feature":"Movement","value":-0.132},{"panel":"MHP","feature":"Movement","value":-0.127},{"panel":"MHP","feature":"Movement","value":-0.101},{"panel":"MHP","feature":"Movement","value":0.181},{"panel":"MHP","feature":"Movement","value":0.189},{"panel":"MHP","feature":"Movement","value":0.197},{"panel":"MHP","feature":"Movement","value":0.205},{"panel":"MHP","feature":"Movement","value":0.213},{"panel":"MHP","feature":"Movement","value":0.222},{"panel":"MHP","feature":"Movement","value":0.230},{"panel":"MHP","feature":"Movement","value":0.240},{"panel":"MHP","feature":"Movement","value":0.250},{"panel":"MHP","feature":"Movement","value":0.258},{"panel":"MHP","feature":"Movement","value":0.266},
    {"panel":"MHP","feature":"Production (Feed)","value":-0.254},{"panel":"MHP","feature":"Production (Feed)","value":-0.243},{"panel":"MHP","feature":"Production (Feed)","value":-0.179},{"panel":"MHP","feature":"Production (Feed)","value":-0.170},{"panel":"MHP","feature":"Production (Feed)","value":-0.160},{"panel":"MHP","feature":"Production (Feed)","value":-0.120},{"panel":"MHP","feature":"Production (Feed)","value":-0.113},{"panel":"MHP","feature":"Production (Feed)","value":0.128},{"panel":"MHP","feature":"Production (Feed)","value":0.136},{"panel":"MHP","feature":"Production (Feed)","value":0.144},{"panel":"MHP","feature":"Production (Feed)","value":0.152},{"panel":"MHP","feature":"Production (Feed)","value":0.160},{"panel":"MHP","feature":"Production (Feed)","value":0.168},{"panel":"MHP","feature":"Production (Feed)","value":0.176},{"panel":"MHP","feature":"Production (Feed)","value":0.184},{"panel":"MHP","feature":"Production (Feed)","value":0.192},{"panel":"MHP","feature":"Production (Feed)","value":0.200},{"panel":"MHP","feature":"Production (Feed)","value":0.209},{"panel":"MHP","feature":"Production (Feed)","value":0.223},{"panel":"MHP","feature":"Production (Feed)","value":0.249},
    {"panel":"MHP","feature":"Production (Mortality)","value":-0.245},{"panel":"MHP","feature":"Production (Mortality)","value":-0.202},{"panel":"MHP","feature":"Production (Mortality)","value":-0.155},{"panel":"MHP","feature":"Production (Mortality)","value":-0.136},{"panel":"MHP","feature":"Production (Mortality)","value":-0.128},{"panel":"MHP","feature":"Production (Mortality)","value":-0.120},{"panel":"MHP","feature":"Production (Mortality)","value":-0.112},{"panel":"MHP","feature":"Production (Mortality)","value":-0.103},{"panel":"MHP","feature":"Production (Mortality)","value":0.132},{"panel":"MHP","feature":"Production (Mortality)","value":0.140},{"panel":"MHP","feature":"Production (Mortality)","value":0.148},{"panel":"MHP","feature":"Production (Mortality)","value":0.156},{"panel":"MHP","feature":"Production (Mortality)","value":0.164},{"panel":"MHP","feature":"Production (Mortality)","value":0.172},{"panel":"MHP","feature":"Production (Mortality)","value":0.180},{"panel":"MHP","feature":"Production (Mortality)","value":0.188},{"panel":"MHP","feature":"Production (Mortality)","value":0.196},{"panel":"MHP","feature":"Production (Mortality)","value":0.209},{"panel":"MHP","feature":"Production (Mortality)","value":0.223},
    {"panel":"MHP","feature":"Production (Cull)","value":-0.235},{"panel":"MHP","feature":"Production (Cull)","value":-0.222},{"panel":"MHP","feature":"Production (Cull)","value":-0.210},{"panel":"MHP","feature":"Production (Cull)","value":-0.198},{"panel":"MHP","feature":"Production (Cull)","value":-0.186},{"panel":"MHP","feature":"Production (Cull)","value":-0.174},{"panel":"MHP","feature":"Production (Cull)","value":-0.162},{"panel":"MHP","feature":"Production (Cull)","value":-0.150},{"panel":"MHP","feature":"Production (Cull)","value":-0.140},{"panel":"MHP","feature":"Production (Cull)","value":-0.130},{"panel":"MHP","feature":"Production (Cull)","value":-0.120},{"panel":"MHP","feature":"Production (Cull)","value":-0.110},{"panel":"MHP","feature":"Production (Cull)","value":-0.103},{"panel":"MHP","feature":"Production (Cull)","value":0.100},{"panel":"MHP","feature":"Production (Cull)","value":0.110},{"panel":"MHP","feature":"Production (Cull)","value":0.120},{"panel":"MHP","feature":"Production (Cull)","value":0.133},{"panel":"MHP","feature":"Production (Cull)","value":0.162},{"panel":"MHP","feature":"Production (Cull)","value":0.172},{"panel":"MHP","feature":"Production (Cull)","value":0.188},{"panel":"MHP","feature":"Production (Cull)","value":0.200},{"panel":"MHP","feature":"Production (Cull)","value":0.237},
    {"panel":"MHP","feature":"Nearest Farm Distances","value":-0.292},{"panel":"MHP","feature":"Nearest Farm Distances","value":-0.254},{"panel":"MHP","feature":"Nearest Farm Distances","value":-0.218},{"panel":"MHP","feature":"Nearest Farm Distances","value":-0.212},{"panel":"MHP","feature":"Nearest Farm Distances","value":-0.193},{"panel":"MHP","feature":"Nearest Farm Distances","value":-0.180},{"panel":"MHP","feature":"Nearest Farm Distances","value":-0.168},{"panel":"MHP","feature":"Nearest Farm Distances","value":-0.157},{"panel":"MHP","feature":"Nearest Farm Distances","value":0.094},{"panel":"MHP","feature":"Nearest Farm Distances","value":0.102},{"panel":"MHP","feature":"Nearest Farm Distances","value":0.110},{"panel":"MHP","feature":"Nearest Farm Distances","value":0.118},{"panel":"MHP","feature":"Nearest Farm Distances","value":0.126},{"panel":"MHP","feature":"Nearest Farm Distances","value":0.134},{"panel":"MHP","feature":"Nearest Farm Distances","value":0.145},{"panel":"MHP","feature":"Nearest Farm Distances","value":0.157},
    {"panel":"MHP","feature":"Biosecurity","value":-0.302},{"panel":"MHP","feature":"Biosecurity","value":-0.278},{"panel":"MHP","feature":"Biosecurity","value":-0.226},{"panel":"MHP","feature":"Biosecurity","value":-0.202},{"panel":"MHP","feature":"Biosecurity","value":-0.181},{"panel":"MHP","feature":"Biosecurity","value":-0.170},{"panel":"MHP","feature":"Biosecurity","value":-0.160},{"panel":"MHP","feature":"Biosecurity","value":-0.152},{"panel":"MHP","feature":"Biosecurity","value":0.100},{"panel":"MHP","feature":"Biosecurity","value":0.108},{"panel":"MHP","feature":"Biosecurity","value":0.116},{"panel":"MHP","feature":"Biosecurity","value":0.124},{"panel":"MHP","feature":"Biosecurity","value":0.132},{"panel":"MHP","feature":"Biosecurity","value":0.140},{"panel":"MHP","feature":"Biosecurity","value":0.148},{"panel":"MHP","feature":"Biosecurity","value":0.156},{"panel":"MHP","feature":"Biosecurity","value":0.164},{"panel":"MHP","feature":"Biosecurity","value":0.172},{"panel":"MHP","feature":"Biosecurity","value":0.180},{"panel":"MHP","feature":"Biosecurity","value":0.190},{"panel":"MHP","feature":"Biosecurity","value":0.214},{"panel":"MHP","feature":"Biosecurity","value":0.223},
    {"panel":"MHP","feature":"Source Test Rates","value":-0.237},{"panel":"MHP","feature":"Source Test Rates","value":-0.224},{"panel":"MHP","feature":"Source Test Rates","value":-0.196},{"panel":"MHP","feature":"Source Test Rates","value":-0.187},{"panel":"MHP","feature":"Source Test Rates","value":-0.178},{"panel":"MHP","feature":"Source Test Rates","value":-0.169},{"panel":"MHP","feature":"Source Test Rates","value":-0.148},{"panel":"MHP","feature":"Source Test Rates","value":-0.139},{"panel":"MHP","feature":"Source Test Rates","value":-0.130},{"panel":"MHP","feature":"Source Test Rates","value":-0.121},{"panel":"MHP","feature":"Source Test Rates","value":-0.111},{"panel":"MHP","feature":"Source Test Rates","value":0.122},{"panel":"MHP","feature":"Source Test Rates","value":0.131},{"panel":"MHP","feature":"Source Test Rates","value":0.148},{"panel":"MHP","feature":"Source Test Rates","value":0.162},{"panel":"MHP","feature":"Source Test Rates","value":0.204},
    {"panel":"MHP","feature":"Diagnostic","value":-0.247},{"panel":"MHP","feature":"Diagnostic","value":-0.226},{"panel":"MHP","feature":"Diagnostic","value":-0.167},{"panel":"MHP","feature":"Diagnostic","value":-0.157},{"panel":"MHP","feature":"Diagnostic","value":-0.147},{"panel":"MHP","feature":"Diagnostic","value":-0.137},{"panel":"MHP","feature":"Diagnostic","value":-0.127},{"panel":"MHP","feature":"Diagnostic","value":-0.117},{"panel":"MHP","feature":"Diagnostic","value":-0.107},{"panel":"MHP","feature":"Diagnostic","value":-0.098},{"panel":"MHP","feature":"Diagnostic","value":0.100},{"panel":"MHP","feature":"Diagnostic","value":0.108},{"panel":"MHP","feature":"Diagnostic","value":0.116},{"panel":"MHP","feature":"Diagnostic","value":0.124},{"panel":"MHP","feature":"Diagnostic","value":0.132},{"panel":"MHP","feature":"Diagnostic","value":0.140},{"panel":"MHP","feature":"Diagnostic","value":0.148},{"panel":"MHP","feature":"Diagnostic","value":0.154},{"panel":"MHP","feature":"Diagnostic","value":0.188},{"panel":"MHP","feature":"Diagnostic","value":0.201},{"panel":"MHP","feature":"Diagnostic","value":0.220},
    {"panel":"MHP","feature":"Weather","value":-0.247},{"panel":"MHP","feature":"Weather","value":-0.218},{"panel":"MHP","feature":"Weather","value":-0.209},{"panel":"MHP","feature":"Weather","value":-0.162},{"panel":"MHP","feature":"Weather","value":-0.141},{"panel":"MHP","feature":"Weather","value":-0.132},{"panel":"MHP","feature":"Weather","value":-0.123},{"panel":"MHP","feature":"Weather","value":-0.114},{"panel":"MHP","feature":"Weather","value":-0.105},{"panel":"MHP","feature":"Weather","value":-0.098},{"panel":"MHP","feature":"Weather","value":0.132},{"panel":"MHP","feature":"Weather","value":0.140},{"panel":"MHP","feature":"Weather","value":0.148},{"panel":"MHP","feature":"Weather","value":0.156},{"panel":"MHP","feature":"Weather","value":0.164},{"panel":"MHP","feature":"Weather","value":0.171},{"panel":"MHP","feature":"Weather","value":0.223},{"panel":"MHP","feature":"Weather","value":0.235},{"panel":"MHP","feature":"Weather","value":0.247},{"panel":"MHP","feature":"Weather","value":0.258},{"panel":"MHP","feature":"Weather","value":0.270}
  ]
},
"columns": 1,
"align": "none",
"spacing": 22,
"concat": [
  {
    "title": {"text": "(a)", "orient": "bottom", "anchor": "middle", "frame": "bounds", "font": "Liberation Serif", "fontSize": 15, "fontWeight": "bold", "dx": -31, "offset": -15},
    "vconcat": [
      {
        "width": 547, "height": 347,
        "title": {"text": "System A", "orient": "bottom", "anchor": "middle", "frame": "bounds", "font": "Liberation Serif", "fontSize": 15, "dx": 11, "offset": 24},
        "layer": [
          {"data": {"name": "topSum"}, "mark": {"type": "rule", "color": "#626262", "strokeWidth": 2, "opacity": 1},
           "encoding": {
             "y": {"field": "feature", "type": "nominal", "scale": {"type": "band", "domain": ["Nearest Farm Distances","Close Out","Sow","Weather","Movement","Source Test Rates","Diagnostic","Source Distances"], "paddingInner": 0, "paddingOuter": 0}, "axis": {"title": null, "tickSize": 6, "labelFontSize": 13.7, "labelPadding": 8, "grid": false}},
             "x": {"field": "lo", "type": "quantitative", "scale": {"domain": [-0.115, 0.3586], "nice": false, "zero": false}, "axis": {"values": [-0.1, 0, 0.1, 0.2, 0.3], "format": ".1f", "grid": true, "tickSize": 6, "labelFontSize": 13.8, "labelPadding": 0, "title": "Balanced Accuracy Improvement", "titleFontSize": 15, "titlePadding": 3}},
             "x2": {"field": "hi"}}},
          {"data": {"name": "topSum"}, "mark": {"type": "tick", "color": "#626262", "thickness": 2, "size": 16, "opacity": 1},
           "encoding": {"y": {"field": "feature", "type": "nominal"}, "x": {"field": "lo", "type": "quantitative"}}},
          {"data": {"name": "topSum"}, "mark": {"type": "tick", "color": "#626262", "thickness": 2, "size": 16, "opacity": 1},
           "encoding": {"y": {"field": "feature", "type": "nominal"}, "x": {"field": "hi", "type": "quantitative"}}},
          {"data": {"name": "topSum"}, "mark": {"type": "bar", "fill": "#7aa6c9", "stroke": "#626262", "strokeWidth": 2, "size": 29, "opacity": 1},
           "encoding": {"y": {"field": "feature", "type": "nominal"}, "x": {"field": "q1", "type": "quantitative"}, "x2": {"field": "q3"}}},
          {"data": {"name": "topSum"}, "mark": {"type": "tick", "color": "#626262", "thickness": 2, "size": 29, "opacity": 1},
           "encoding": {"y": {"field": "feature", "type": "nominal"}, "x": {"field": "med", "type": "quantitative"}}},
          {"data": {"name": "topOut"}, "mark": {"type": "point", "shape": "M0,-1L0.6,0L0,1L-0.6,0Z", "filled": true, "color": "#5a5a5a", "size": 24, "opacity": 1},
           "encoding": {"y": {"field": "feature", "type": "nominal"}, "x": {"field": "value", "type": "quantitative"}}}
        ]
      }
    ]
  },
  {
    "title": {"text": "(b)", "orient": "bottom", "anchor": "middle", "frame": "bounds", "font": "Liberation Serif", "fontSize": 15, "fontWeight": "bold", "dx": -31, "offset": -15},
    "vconcat": [
      {
        "title": {"text": "System B", "orient": "bottom", "anchor": "middle", "frame": "bounds", "font": "Liberation Serif", "fontSize": 15, "dx": 11, "offset": 25},
        "spacing": 13,
        "vconcat": [
          {"spacing": 17, "hconcat": [
            {"width": 261, "height": 181.5, "title": {"text": "IAV", "fontSize": 15.3, "offset": 4},
             "layer": [
              {"data": {"name": "botSum"}, "transform": [{"filter": "datum.panel === 'IAV'"}], "mark": {"type": "rule", "color": "#626262", "strokeWidth": 1.5, "opacity": 1},
               "encoding": {
                 "y": {"field": "feature", "type": "nominal", "scale": {"type": "band", "domain": ["Test Rates","Source Distances","Movement","Production (Feed)","Production (Mortality)","Production (Cull)","Nearest Farm Distances","Biosecurity","Source Test Rates","Diagnostic","Weather"], "paddingInner": 0, "paddingOuter": 0}, "axis": {"title": null, "tickSize": 7, "labelFontSize": 14, "labelPadding": 3, "grid": false, "labels": true}},
                 "x": {"field": "lo", "type": "quantitative", "scale": {"domain": [-0.386, 0.353], "nice": false, "zero": false}, "axis": {"values": [-0.2, 0, 0.2], "format": ".1f", "grid": true, "tickSize": 7, "labels": false, "title": null}},
                 "x2": {"field": "hi"}}},
              {"data": {"name": "botSum"}, "transform": [{"filter": "datum.panel === 'IAV'"}], "mark": {"type": "tick", "color": "#626262", "thickness": 1.5, "size": 6, "opacity": 1}, "encoding": {"y": {"field": "feature", "type": "nominal"}, "x": {"field": "lo", "type": "quantitative"}}},
              {"data": {"name": "botSum"}, "transform": [{"filter": "datum.panel === 'IAV'"}], "mark": {"type": "tick", "color": "#626262", "thickness": 1.5, "size": 6, "opacity": 1}, "encoding": {"y": {"field": "feature", "type": "nominal"}, "x": {"field": "hi", "type": "quantitative"}}},
              {"data": {"name": "botSum"}, "transform": [{"filter": "datum.panel === 'IAV'"}], "mark": {"type": "bar", "fill": "#7aa6c9", "stroke": "#626262", "strokeWidth": 1.5, "size": 12.5, "opacity": 1}, "encoding": {"y": {"field": "feature", "type": "nominal"}, "x": {"field": "q1", "type": "quantitative"}, "x2": {"field": "q3"}}},
              {"data": {"name": "botSum"}, "transform": [{"filter": "datum.panel === 'IAV'"}], "mark": {"type": "tick", "color": "#626262", "thickness": 1.5, "size": 12.5, "opacity": 1}, "encoding": {"y": {"field": "feature", "type": "nominal"}, "x": {"field": "med", "type": "quantitative"}}},
              {"data": {"name": "botOut"}, "transform": [{"filter": "datum.panel === 'IAV'"}], "mark": {"type": "point", "shape": "M0,-1L0.65,0L0,1L-0.65,0Z", "filled": true, "color": "#5a5a5a", "size": 28, "opacity": 1}, "encoding": {"y": {"field": "feature", "type": "nominal"}, "x": {"field": "value", "type": "quantitative"}}}
             ]},
            {"width": 261, "height": 181.5, "title": {"text": "PRRS", "fontSize": 15.3, "offset": 4},
             "layer": [
              {"data": {"name": "botSum"}, "transform": [{"filter": "datum.panel === 'PRRS'"}], "mark": {"type": "rule", "color": "#626262", "strokeWidth": 1.5, "opacity": 1},
               "encoding": {
                 "y": {"field": "feature", "type": "nominal", "scale": {"type": "band", "domain": ["Test Rates","Source Distances","Movement","Production (Feed)","Production (Mortality)","Production (Cull)","Nearest Farm Distances","Biosecurity","Source Test Rates","Diagnostic","Weather"], "paddingInner": 0, "paddingOuter": 0}, "axis": {"title": null, "tickSize": 7, "labels": false, "grid": false}},
                 "x": {"field": "lo", "type": "quantitative", "scale": {"domain": [-0.386, 0.353], "nice": false, "zero": false}, "axis": {"values": [-0.2, 0, 0.2], "format": ".1f", "grid": true, "tickSize": 7, "labels": false, "title": null}},
                 "x2": {"field": "hi"}}},
              {"data": {"name": "botSum"}, "transform": [{"filter": "datum.panel === 'PRRS'"}], "mark": {"type": "tick", "color": "#626262", "thickness": 1.5, "size": 6, "opacity": 1}, "encoding": {"y": {"field": "feature", "type": "nominal"}, "x": {"field": "lo", "type": "quantitative"}}},
              {"data": {"name": "botSum"}, "transform": [{"filter": "datum.panel === 'PRRS'"}], "mark": {"type": "tick", "color": "#626262", "thickness": 1.5, "size": 6, "opacity": 1}, "encoding": {"y": {"field": "feature", "type": "nominal"}, "x": {"field": "hi", "type": "quantitative"}}},
              {"data": {"name": "botSum"}, "transform": [{"filter": "datum.panel === 'PRRS'"}], "mark": {"type": "bar", "fill": "#7aa6c9", "stroke": "#626262", "strokeWidth": 1.5, "size": 12.5, "opacity": 1}, "encoding": {"y": {"field": "feature", "type": "nominal"}, "x": {"field": "q1", "type": "quantitative"}, "x2": {"field": "q3"}}},
              {"data": {"name": "botSum"}, "transform": [{"filter": "datum.panel === 'PRRS'"}], "mark": {"type": "tick", "color": "#626262", "thickness": 1.5, "size": 12.5, "opacity": 1}, "encoding": {"y": {"field": "feature", "type": "nominal"}, "x": {"field": "med", "type": "quantitative"}}},
              {"data": {"name": "botOut"}, "transform": [{"filter": "datum.panel === 'PRRS'"}], "mark": {"type": "point", "shape": "M0,-1L0.65,0L0,1L-0.65,0Z", "filled": true, "color": "#5a5a5a", "size": 28, "opacity": 1}, "encoding": {"y": {"field": "feature", "type": "nominal"}, "x": {"field": "value", "type": "quantitative"}}}
             ]}
          ]},
          {"spacing": 17, "hconcat": [
            {"width": 261, "height": 181.5, "title": {"text": "PEDV", "fontSize": 15.3, "offset": 4},
             "layer": [
              {"data": {"name": "botSum"}, "transform": [{"filter": "datum.panel === 'PEDV'"}], "mark": {"type": "rule", "color": "#626262", "strokeWidth": 1.5, "opacity": 1},
               "encoding": {
                 "y": {"field": "feature", "type": "nominal", "scale": {"type": "band", "domain": ["Test Rates","Source Distances","Movement","Production (Feed)","Production (Mortality)","Production (Cull)","Nearest Farm Distances","Biosecurity","Source Test Rates","Diagnostic","Weather"], "paddingInner": 0, "paddingOuter": 0}, "axis": {"title": null, "tickSize": 7, "labelFontSize": 14, "labelPadding": 3, "grid": false, "labels": true}},
                 "x": {"field": "lo", "type": "quantitative", "scale": {"domain": [-0.386, 0.353], "nice": false, "zero": false}, "axis": {"values": [-0.2, 0, 0.2], "format": ".1f", "grid": true, "tickSize": 7, "labels": true, "labelFontSize": 14.5, "labelPadding": 3, "title": null}},
                 "x2": {"field": "hi"}}},
              {"data": {"name": "botSum"}, "transform": [{"filter": "datum.panel === 'PEDV'"}], "mark": {"type": "tick", "color": "#626262", "thickness": 1.5, "size": 6, "opacity": 1}, "encoding": {"y": {"field": "feature", "type": "nominal"}, "x": {"field": "lo", "type": "quantitative"}}},
              {"data": {"name": "botSum"}, "transform": [{"filter": "datum.panel === 'PEDV'"}], "mark": {"type": "tick", "color": "#626262", "thickness": 1.5, "size": 6, "opacity": 1}, "encoding": {"y": {"field": "feature", "type": "nominal"}, "x": {"field": "hi", "type": "quantitative"}}},
              {"data": {"name": "botSum"}, "transform": [{"filter": "datum.panel === 'PEDV'"}], "mark": {"type": "bar", "fill": "#7aa6c9", "stroke": "#626262", "strokeWidth": 1.5, "size": 12.5, "opacity": 1}, "encoding": {"y": {"field": "feature", "type": "nominal"}, "x": {"field": "q1", "type": "quantitative"}, "x2": {"field": "q3"}}},
              {"data": {"name": "botSum"}, "transform": [{"filter": "datum.panel === 'PEDV'"}], "mark": {"type": "tick", "color": "#626262", "thickness": 1.5, "size": 12.5, "opacity": 1}, "encoding": {"y": {"field": "feature", "type": "nominal"}, "x": {"field": "med", "type": "quantitative"}}},
              {"data": {"name": "botOut"}, "transform": [{"filter": "datum.panel === 'PEDV'"}], "mark": {"type": "point", "shape": "M0,-1L0.65,0L0,1L-0.65,0Z", "filled": true, "color": "#5a5a5a", "size": 28, "opacity": 1}, "encoding": {"y": {"field": "feature", "type": "nominal"}, "x": {"field": "value", "type": "quantitative"}}}
             ]},
            {"width": 261, "height": 181.5, "title": {"text": "MHP", "fontSize": 15.3, "offset": 4},
             "layer": [
              {"data": {"name": "botSum"}, "transform": [{"filter": "datum.panel === 'MHP'"}], "mark": {"type": "rule", "color": "#626262", "strokeWidth": 1.5, "opacity": 1},
               "encoding": {
                 "y": {"field": "feature", "type": "nominal", "scale": {"type": "band", "domain": ["Test Rates","Source Distances","Movement","Production (Feed)","Production (Mortality)","Production (Cull)","Nearest Farm Distances","Biosecurity","Source Test Rates","Diagnostic","Weather"], "paddingInner": 0, "paddingOuter": 0}, "axis": {"title": null, "tickSize": 7, "labels": false, "grid": false}},
                 "x": {"field": "lo", "type": "quantitative", "scale": {"domain": [-0.386, 0.353], "nice": false, "zero": false}, "axis": {"values": [-0.2, 0, 0.2], "format": ".1f", "grid": true, "tickSize": 7, "labels": true, "labelFontSize": 14.5, "labelPadding": 3, "title": "Balanced Accuracy Improvement", "titleFontSize": 15.3, "titlePadding": 1}},
                 "x2": {"field": "hi"}}},
              {"data": {"name": "botSum"}, "transform": [{"filter": "datum.panel === 'MHP'"}], "mark": {"type": "tick", "color": "#626262", "thickness": 1.5, "size": 6, "opacity": 1}, "encoding": {"y": {"field": "feature", "type": "nominal"}, "x": {"field": "lo", "type": "quantitative"}}},
              {"data": {"name": "botSum"}, "transform": [{"filter": "datum.panel === 'MHP'"}], "mark": {"type": "tick", "color": "#626262", "thickness": 1.5, "size": 6, "opacity": 1}, "encoding": {"y": {"field": "feature", "type": "nominal"}, "x": {"field": "hi", "type": "quantitative"}}},
              {"data": {"name": "botSum"}, "transform": [{"filter": "datum.panel === 'MHP'"}], "mark": {"type": "bar", "fill": "#7aa6c9", "stroke": "#626262", "strokeWidth": 1.5, "size": 12.5, "opacity": 1}, "encoding": {"y": {"field": "feature", "type": "nominal"}, "x": {"field": "q1", "type": "quantitative"}, "x2": {"field": "q3"}}},
              {"data": {"name": "botSum"}, "transform": [{"filter": "datum.panel === 'MHP'"}], "mark": {"type": "tick", "color": "#626262", "thickness": 1.5, "size": 12.5, "opacity": 1}, "encoding": {"y": {"field": "feature", "type": "nominal"}, "x": {"field": "med", "type": "quantitative"}}},
              {"data": {"name": "botOut"}, "transform": [{"filter": "datum.panel === 'MHP'"}], "mark": {"type": "point", "shape": "M0,-1L0.65,0L0,1L-0.65,0Z", "filled": true, "color": "#5a5a5a", "size": 28, "opacity": 1}, "encoding": {"y": {"field": "feature", "type": "nominal"}, "x": {"field": "value", "type": "quantitative"}}}
             ]}
          ]}
        ]
      }
    ]
  }
]
}
